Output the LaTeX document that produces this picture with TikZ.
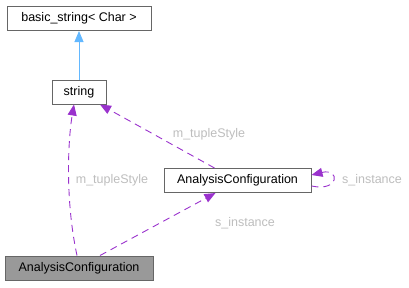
\documentclass[tikz,border=0pt]{standalone}
\usepackage{fontspec}
\setmainfont{Liberation Sans}
\usetikzlibrary{arrows.meta,positioning}
\definecolor{edgePurple}{HTML}{9A32CD}
\definecolor{edgeBlue}{HTML}{63B8FF}
\definecolor{boxGrey}{HTML}{666666}
\definecolor{rootFill}{HTML}{999999}
\definecolor{labelGrey}{HTML}{BDBDBD}
\tikzset{
  classbox/.style={draw=boxGrey,line width=1pt,fill=white,inner sep=0pt,minimum height=24pt,font=\fontsize{12.5}{14}\selectfont},
  rootbox/.style={classbox,fill=rootFill},
  usesedge/.style={edgePurple,line width=0.9pt,dash pattern=on 7pt off 5pt,-{Triangle[length=11pt,width=9pt]}},
  inheritedge/.style={edgeBlue,line width=0.9pt,-{Triangle[length=11pt,width=9pt]}},
  edgelabel/.style={text=labelGrey,font=\fontsize{12.5}{14}\selectfont}
}
\begin{document}
\begin{tikzpicture}[x=1pt,y=-1pt]
\useasboundingbox (0,0) rectangle (409,287);
\node[classbox,minimum width=144pt] (basicstr) at (79,18.5) {basic\_string\textless{} Char \textgreater};
\node[classbox,minimum width=54pt] (str) at (79,92) {string};
\node[classbox,minimum width=147pt] (acfg) at (237.5,180.5) {AnalysisConfiguration};
\node[rootbox,minimum width=148pt] (acfgroot) at (79,268) {AnalysisConfiguration};
\draw[inheritedge] (str.north) -- (basicstr.south);
\draw[usesedge] ([xshift=-2pt]acfgroot.north) .. controls (65,200) and (68,140) .. ([xshift=-5pt]str.south);
\draw[usesedge] ([xshift=-23pt]acfg.north) -- ([xshift=21pt]str.south);
\draw[usesedge] ([xshift=21pt]acfgroot.north) -- ([xshift=-22pt]acfg.south);
\draw[usesedge] ([yshift=-5.5pt]acfg.east) .. controls (340,192) and (340,168) .. ([yshift=5.5pt]acfg.east);
\node[edgelabel] (lblroot) at (112,180) {m\_tupleStyle};
\node[edgelabel] (lblmid) at (209,134) {m\_tupleStyle};
\node[edgelabel] (lblinst) at (245,223) {s\_instance};
\node[edgelabel] (lblself) at (372,180) {s\_instance};
\end{tikzpicture}
\end{document}
